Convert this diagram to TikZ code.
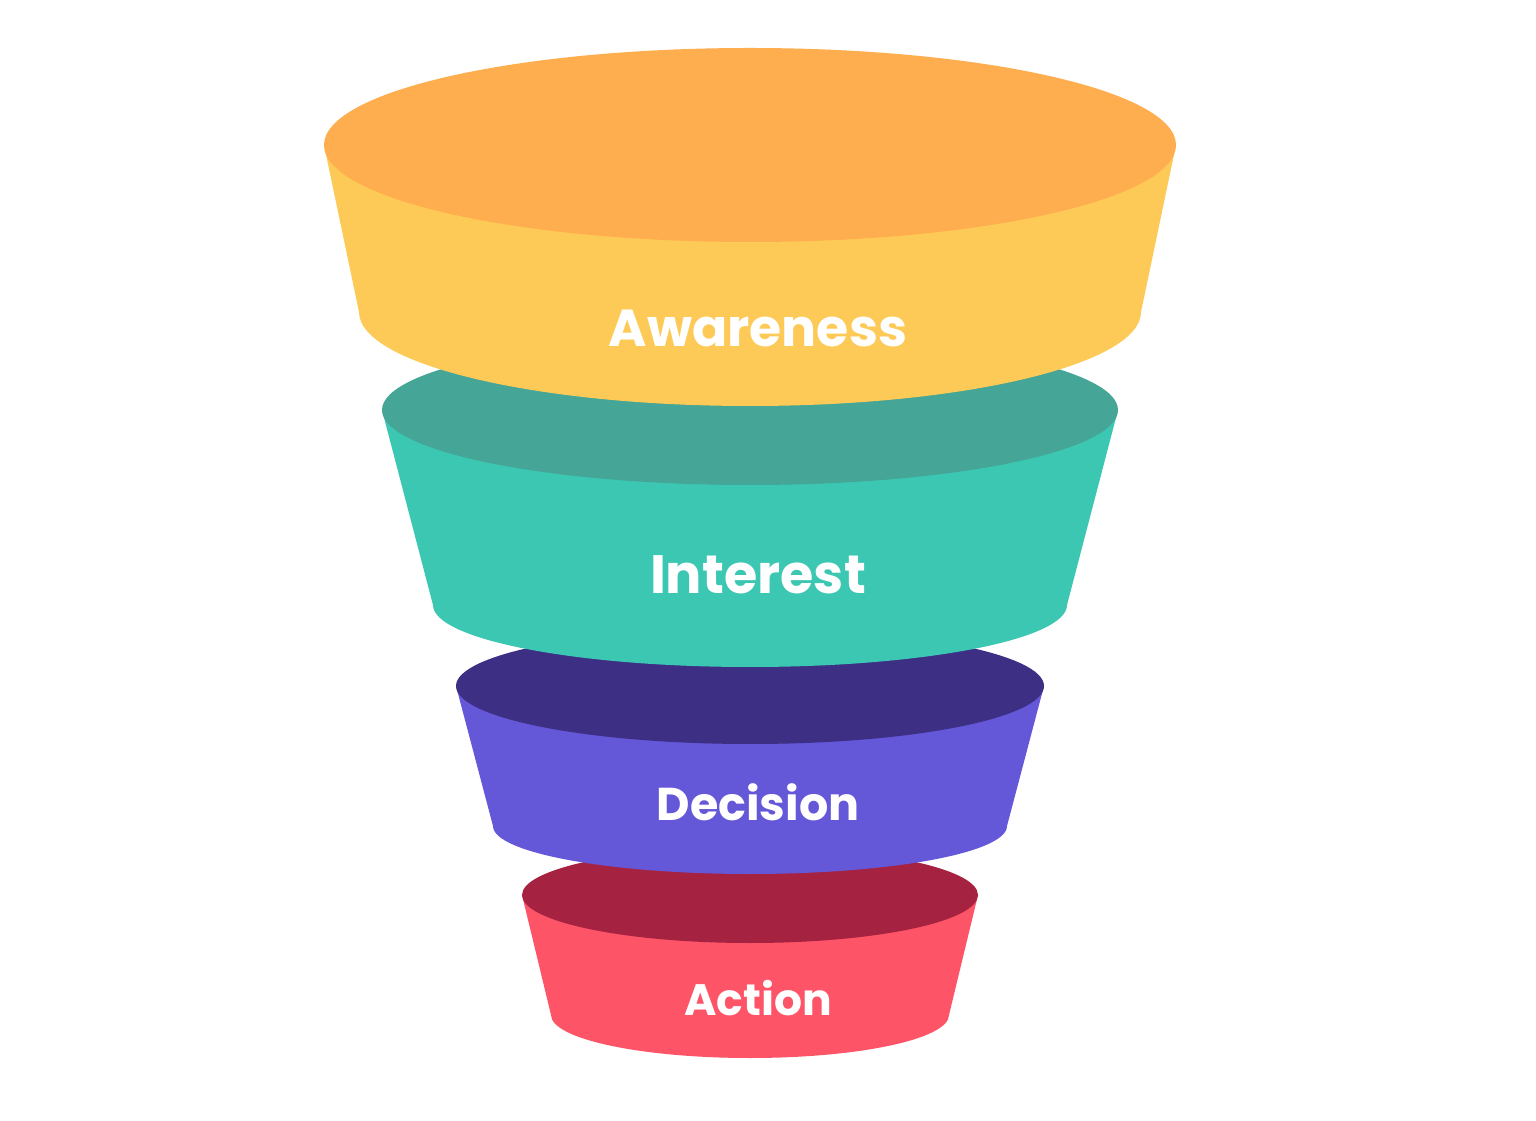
\documentclass[tikz,border=0pt]{standalone}
\usepackage{fontspec}
\setmainfont{Poppins}
\definecolor{awTop}{HTML}{FEAE4E}\definecolor{awSide}{HTML}{FECA57}
\definecolor{inTop}{HTML}{45A597}\definecolor{inSide}{HTML}{3CC7B3}
\definecolor{deTop}{HTML}{3C2F84}\definecolor{deSide}{HTML}{6457D8}
\definecolor{acTop}{HTML}{A52240}\definecolor{acSide}{HTML}{FE5468}
\newcommand\funlayer[9]{% cx yt rxt ryt yb rxb ryb side top
  \fill[#8] ({#1-#3},#2) -- ({#1-#6},#5) arc[start angle=180,end angle=360,x radius=#6pt,y radius=#7pt] -- ({#1+#3},#2) -- cycle;
  \fill[#9] (#1,#2) ellipse [x radius=#3pt,y radius=#4pt];}
\tikzset{lbl/.style={text=white,font=\bfseries}}
\begin{document}
\begin{tikzpicture}[x=1pt,y=1pt]
\fill[white] (0,0) rectangle (1536,1120);
\funlayer{750}{225}{228}{48}{105}{199}{43}{acSide}{acTop}
\funlayer{750}{434}{294}{58}{294}{257}{48}{deSide}{deTop}
\funlayer{750}{710}{368}{75}{515}{317}{62}{inSide}{inTop}
\funlayer{750}{975}{426}{97}{808}{391}{94}{awSide}{awTop}
\node[lbl,font=\bfseries\fontsize{52}{60}\selectfont] (aw) at (758,792) {Awareness};
\node[lbl,font=\bfseries\fontsize{54}{60}\selectfont] (in) at (758,545) {Interest};
\node[lbl,font=\bfseries\fontsize{46}{54}\selectfont] (de) at (758,318) {Decision};
\node[lbl,font=\bfseries\fontsize{44}{50}\selectfont] (ac) at (758,122) {Action};
\end{tikzpicture}
\end{document}
